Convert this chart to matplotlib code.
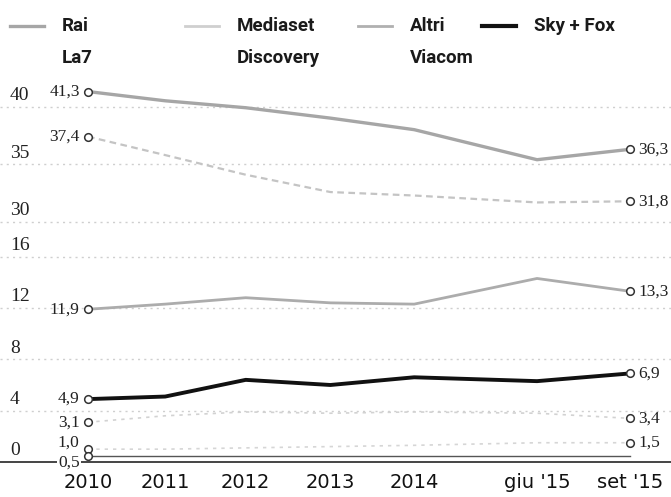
# share of audience by broadcaster, broken y axis (0-16 / 30-42)

import matplotlib
matplotlib.use('AGG')
import matplotlib.pyplot as plt
from matplotlib.lines import Line2D
import numpy as np

#%% data

periods = ['2010', '2011', '2012', '2013', '2014', "giu '15", "set '15"]
xpos = [0, 0.93, 1.9, 2.92, 3.93, 5.41, 6.53]   # uneven spacing as in print

rai       = [41.3, 40.5, 39.9, 39.0, 38.0, 35.4, 36.3]
mediaset  = [37.4, 35.8, 34.1, 32.6, 32.3, 31.7, 31.8]
altri     = [11.9, 12.3, 12.8, 12.4, 12.3, 14.3, 13.3]
skyfox    = [4.9, 5.1, 6.4, 6.0, 6.6, 6.3, 6.9]
la7       = [3.1, 3.6, 3.9, 3.8, 3.9, 3.8, 3.4]
discovery = [1.0, 1.0, 1.1, 1.2, 1.3, 1.5, 1.5]
viacom    = [0.5, 0.5, 0.5, 0.5, 0.5, 0.5, 0.5]

ytick_vals = [0, 4, 8, 12, 16, 30, 35, 40]

# end labels (first / last value), viacom has none on the right
labelled = [rai, mediaset, altri, skyfox, la7, discovery]

#%% broken axis scale

def fwd(v):
    v = np.asarray(v, dtype=float)
    return np.where(v <= 16, v*13.0,
           np.where(v < 30, 208.0 + (v-16)*(35.0/14), 243.0 + (v-30)*11.7))

def inv(p):
    p = np.asarray(p, dtype=float)
    return np.where(p <= 208, p/13.0,
           np.where(p < 243, 16 + (p-208)*(14/35.0), 30 + (p-243)/11.7))

def fmt(v):
    return ('%.1f' % v).replace('.', ',')

#%% plot
fig = plt.figure(figsize=(6.71, 4.97), dpi=100)
ax = fig.add_axes([0.0, 1-462/497., 1.0, 382/497.])
ax.set_yscale('function', functions=(fwd, inv))
ax.set_ylim(0, 42.3)
ax.set_xlim(-88/83., (671-88)/83.)

serif = ['Liberation Serif', 'DejaVu Serif']
sans_c = ['Roboto', 'DejaVu Sans']

# dotted grid + labels sitting above the lines
for v in ytick_vals:
    if v > 0:
        ax.axhline(v, color='#cfcfcf', lw=1.0, ls=(0, (1.5, 3)), zorder=0)
    ax.annotate(str(v), xy=(0.015, v), xycoords=('axes fraction', 'data'),
                xytext=(0, 2), textcoords='offset points', ha='left', va='bottom',
                fontsize=14, family=serif, color='#222222')

ax.plot(xpos, discovery, color='#d6d6d6', lw=1.2, ls=(0, (2, 3)), zorder=2)
ax.plot(xpos, la7, color='#d2d2d2', lw=1.2, ls=(0, (2, 3)), zorder=2)
ax.plot(xpos, mediaset, color='#c4c4c4', lw=1.6, ls=(0, (3, 2)), zorder=2)
ax.plot(xpos, rai, color='#a6a6a6', lw=2.4, zorder=3)
ax.plot(xpos, altri, color='#acacac', lw=2.0, zorder=3)
ax.plot(xpos, skyfox, color='#111111', lw=2.8, zorder=4)
ax.plot(xpos, viacom, color='#555555', lw=1.0, zorder=3)

# end markers and value labels
lab_dy = {id(discovery): 5, id(la7): 0}
for s in labelled:
    for i in (0, -1):
        ax.plot(xpos[i], s[i], marker='o', ms=5.5, mfc='white', mec='#333333',
                mew=1.1, zorder=5)
    ax.annotate(fmt(s[0]), xy=(xpos[0], s[0]), xytext=(-6, lab_dy.get(id(s), 0)),
                textcoords='offset points', ha='right', va='center',
                fontsize=12.5, family=serif, color='#222222')
    ax.annotate(fmt(s[-1]), xy=(xpos[-1], s[-1]), xytext=(6, 0),
                textcoords='offset points', ha='left', va='center',
                fontsize=12.5, family=serif, color='#222222')
ax.plot(xpos[0], viacom[0], marker='o', ms=5.5, mfc='white', mec='#333333',
        mew=1.1, zorder=5)
ax.annotate(fmt(viacom[0]), xy=(xpos[0], viacom[0]), xytext=(-6, -5),
            textcoords='offset points', ha='right', va='center',
            fontsize=12.5, family=serif, color='#222222',
            bbox=dict(boxstyle='square,pad=0.05', fc='white', ec='none'), zorder=6)

for sp in ['top', 'left', 'right']:
    ax.spines[sp].set_visible(False)
ax.spines['bottom'].set_color('#444444')
ax.spines['bottom'].set_linewidth(1.4)
ax.set_yticks([])
ax.set_xticks(xpos)
ax.set_xticklabels(periods, fontsize=14, color='#111111')
ax.tick_params(axis='x', length=0, pad=8)

#%% legend drawn by hand
leg = [('Rai', 10, 0, '#a6a6a6', 2.4), ('La7', 10, 1, None, 0),
       ('Mediaset', 185, 0, '#cfcfcf', 2.0), ('Discovery', 185, 1, None, 0),
       ('Altri', 358, 0, '#b0b0b0', 2.0), ('Viacom', 358, 1, None, 0),
       ('Sky + Fox', 482, 0, '#111111', 3.0)]
for name, x0, row, col, lw in leg:
    yy = 1 - (26 + row*32)/497.
    if col is not None:
        fig.add_artist(Line2D([x0/671., (x0+34)/671.], [yy, yy], color=col, lw=lw,
                              transform=fig.transFigure))
    fig.text((x0+52)/671., yy, name, ha='left', va='center', fontsize=13.5,
             fontweight='bold', family=sans_c, color='#1a1a1a')

fig.savefig('out.png', dpi=100)
